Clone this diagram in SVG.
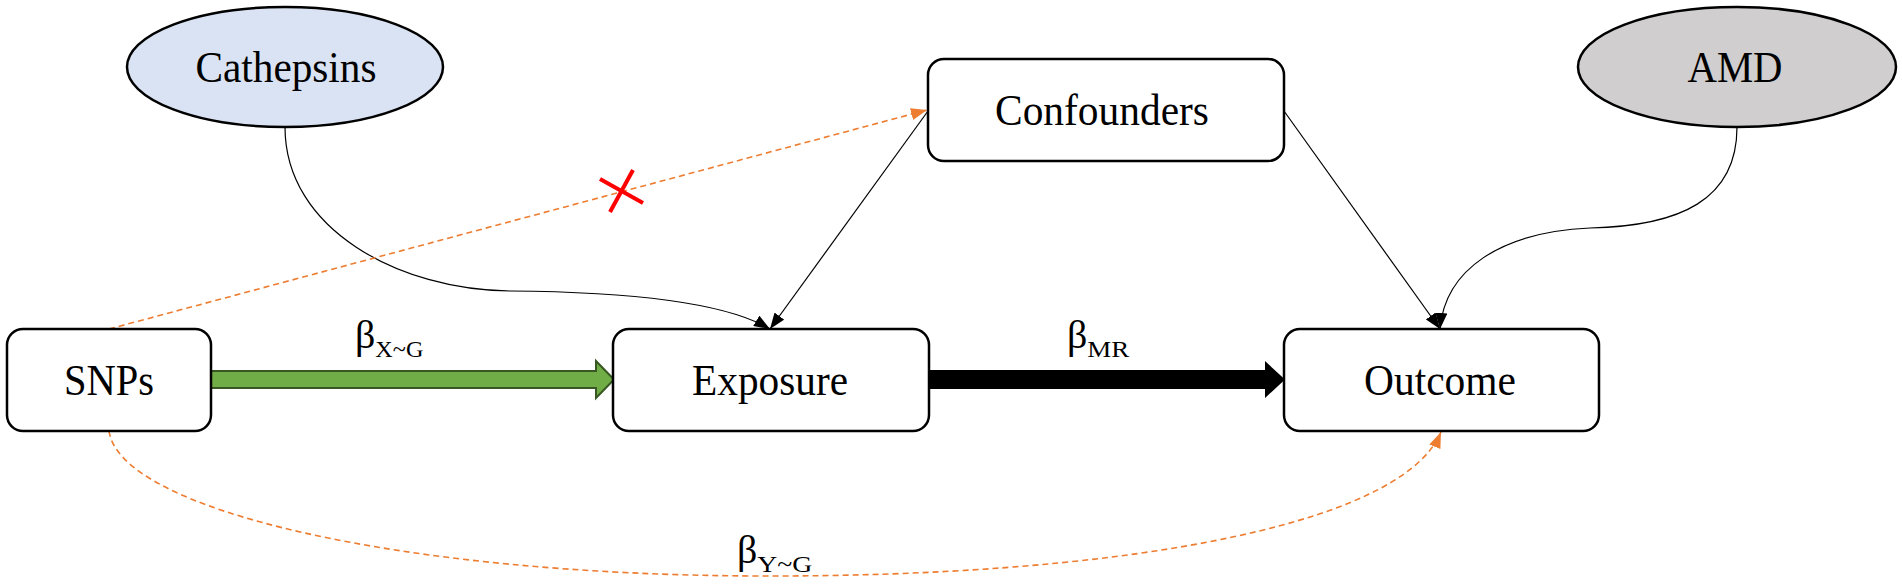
<svg xmlns="http://www.w3.org/2000/svg" width="1902" height="584" viewBox="0 0 1902 584">
<defs>
<style>
.box{fill:#ffffff;stroke:#000;stroke-width:2.5}
.ell{stroke:#000;stroke-width:2.5}
.lbl{font-family:"Liberation Serif","Times New Roman",serif;font-size:44px;fill:#000;text-anchor:middle}
.beta{font-family:"Liberation Serif","Times New Roman",serif;font-size:40px;fill:#000}
.sub{font-size:23px}
.thin{fill:none;stroke:#000;stroke-width:1.2}
.dash{fill:none;stroke:#ed7d31;stroke-width:1.6;stroke-dasharray:6 4}
</style>
<marker id="ah" viewBox="0 0 16 12" refX="16" refY="6" markerWidth="16" markerHeight="12" markerUnits="userSpaceOnUse" orient="auto">
<path d="M0,0 L16,6 L0,12 Z" fill="#000"/>
</marker>
<marker id="ahO" viewBox="0 0 16 12" refX="16" refY="6" markerWidth="16" markerHeight="12" markerUnits="userSpaceOnUse" orient="auto">
<path d="M0,0 L16,6 L0,12 Z" fill="#ed7d31"/>
</marker>
</defs>
<rect width="1902" height="584" fill="#ffffff"/>
<g id="connectors">
<path class="thin" d="M285,127 C285,230 400,290 510,291 C640,292 730,305 770,329" marker-end="url(#ah)"/>
<path class="thin" d="M928,111 L770,329" marker-end="url(#ah)"/>
<path class="thin" d="M1284,111 L1440,329" marker-end="url(#ah)"/>
<path class="thin" d="M1737,127 C1737,200 1680,226 1590,228 C1500,232 1445,270 1440,329" marker-end="url(#ah)"/>
<path class="dash" d="M109,329 L927,110" marker-end="url(#ahO)"/>
<path class="dash" d="M109,431 C120,510 400,575 760,576 C1100,577 1400,530 1441,432" marker-end="url(#ahO)"/>
<polygon points="211,371 596,371 596,361 614,379.5 596,398 596,388 211,388" fill="#70ad47" stroke="#385723" stroke-width="2"/>
<polygon points="929,370 1265,370 1265,361 1285,379.5 1265,398 1265,389 929,389" fill="#000"/>
<g stroke="#ff0000" stroke-width="4" stroke-linecap="butt">
<line x1="600" y1="179" x2="643" y2="203"/>
<line x1="633" y1="170" x2="610" y2="212"/>
</g>
<text class="beta" x="355" y="348">β<tspan class="sub" dy="9" textLength="48" lengthAdjust="spacingAndGlyphs">X~G</tspan></text>
<text class="beta" x="1067" y="348">β<tspan class="sub" dy="9" textLength="42" lengthAdjust="spacingAndGlyphs">MR</tspan></text>
<text class="beta" x="737" y="563">β<tspan class="sub" dy="9" textLength="55" lengthAdjust="spacingAndGlyphs">Y~G</tspan></text>
</g>
<g id="cathepsins">
<ellipse class="ell" cx="285" cy="67" rx="158" ry="60" fill="#dae3f3"/>
<text class="lbl" x="286" y="82" textLength="181" lengthAdjust="spacingAndGlyphs">Cathepsins</text>
</g>
<g id="amd">
<ellipse class="ell" cx="1737" cy="67" rx="159" ry="60" fill="#d0cece"/>
<text class="lbl" x="1735" y="82" textLength="95" lengthAdjust="spacingAndGlyphs">AMD</text>
</g>
<g id="confounders">
<rect class="box" x="928" y="59" width="356" height="102" rx="16"/>
<text class="lbl" x="1102" y="125" textLength="214" lengthAdjust="spacingAndGlyphs">Confounders</text>
</g>
<g id="snps">
<rect class="box" x="7" y="329" width="204" height="102" rx="16"/>
<text class="lbl" x="109" y="395" textLength="90" lengthAdjust="spacingAndGlyphs">SNPs</text>
</g>
<g id="exposure">
<rect class="box" x="613" y="329" width="316" height="102" rx="16"/>
<text class="lbl" x="770" y="395" textLength="156" lengthAdjust="spacingAndGlyphs">Exposure</text>
</g>
<g id="outcome">
<rect class="box" x="1284" y="329" width="315" height="102" rx="16"/>
<text class="lbl" x="1440" y="395" textLength="152" lengthAdjust="spacingAndGlyphs">Outcome</text>
</g>
</svg>
